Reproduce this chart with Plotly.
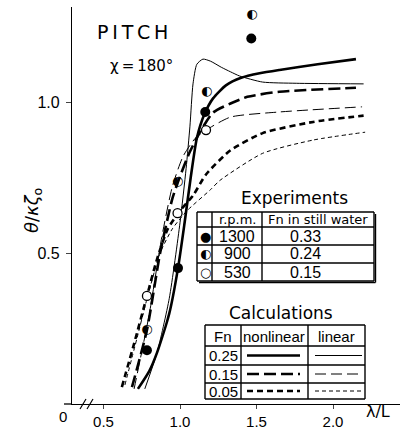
import plotly.graph_objects as go

# ---------------- data ----------------
lam_nl25 = [0.725, 0.80, 0.85, 0.93, 0.987, 1.03, 1.07, 1.11, 1.16, 1.216, 1.3, 1.4, 1.52, 1.65, 1.9, 2.15]
th_nl25 = [0.05, 0.11, 0.17, 0.30, 0.45, 0.60, 0.75, 0.88, 0.96, 1.012, 1.055, 1.08, 1.095, 1.106, 1.125, 1.142]

lam_li25 = [0.77, 0.85, 0.93, 1.0, 1.04, 1.065, 1.085, 1.11, 1.15, 1.2, 1.27, 1.33, 1.39, 1.54, 1.76, 2.2]
th_li25 = [0.05, 0.17, 0.35, 0.60, 0.78, 0.92, 1.06, 1.125, 1.142, 1.135, 1.115, 1.10, 1.086, 1.066, 1.062, 1.06]

lam_nl15 = [0.686, 0.784, 0.87, 0.95, 0.99, 1.06, 1.13, 1.216, 1.33, 1.44, 1.65, 2.15]
th_nl15 = [0.056, 0.245, 0.50, 0.68, 0.74, 0.83, 0.90, 0.965, 0.995, 1.017, 1.034, 1.047]

lam_li15 = [0.70, 0.80, 0.88, 0.95, 1.02, 1.10, 1.17, 1.33, 1.65, 2.19]
th_li15 = [0.05, 0.30, 0.55, 0.72, 0.82, 0.88, 0.907, 0.95, 0.967, 0.984]

lam_nl05 = [0.62, 0.70, 0.78, 0.85, 0.92, 1.0, 1.085, 1.17, 1.33, 1.54, 1.87, 2.2]
th_nl05 = [0.056, 0.20, 0.35, 0.48, 0.58, 0.64, 0.69, 0.76, 0.84, 0.897, 0.934, 0.955]

lam_li05 = [0.64, 0.72, 0.78, 0.87, 0.95, 1.046, 1.2, 1.26, 1.54, 1.87, 2.21]
th_li05 = [0.063, 0.22, 0.34, 0.50, 0.58, 0.64, 0.71, 0.74, 0.83, 0.874, 0.90]

lam_1300 = [0.784, 0.987, 1.165, 1.466]
th_1300 = [0.178, 0.45, 0.967, 1.21]
lam_900 = [0.784, 0.984, 1.175, 1.47]
th_900 = [0.245, 0.735, 1.033, 1.29]
lam_530 = [0.784, 0.984, 1.17]
th_530 = [0.358, 0.632, 0.907]

x_ticks = [0.5, 1.0, 1.5, 2.0]
x_ticktext = ["0.5", "1.0", "1.5", "2.0"]
y_ticks = [0.5, 1.0]
y_ticktext = ["0.5", "1.0"]

exp_rpm = ["1300", "900", "530"]
exp_fn = ["0.33", "0.24", "0.15"]
exp_sym = ["●", "◐", "○"]
calc_fn = ["0.25", "0.15", "0.05"]

# ---------------- layout geometry (pixels) ----------------
W, H = 403, 429
L, R, T, B = 72, 3, 7, 25
PW, PH = W - L - R, H - T - B

def px(x):
    return (x - L) / PW

def py(y):
    return (H - B - y) / PH

FONT = "Liberation Sans, Arial, sans-serif"
WIDE = "DejaVu Sans, sans-serif"

fig = go.Figure()

def line(lx, ly, width, dash):
    fig.add_trace(go.Scatter(x=lx, y=ly, mode="lines",
                             line=dict(color="black", width=width, dash=dash,
                                       shape="spline", smoothing=0.6),
                             showlegend=False, hoverinfo="skip"))

styles = {
    "nl25": (2.6, "solid"), "li25": (1.0, "solid"),
    "nl15": (2.6, "12px,5px"), "li15": (1.0, "11px,5px"),
    "nl05": (2.6, "6px,4px"), "li05": (1.0, "4px,3px"),
}
line(lam_li25, th_li25, *styles["li25"])
line(lam_nl25, th_nl25, *styles["nl25"])
line(lam_nl15, th_nl15, *styles["nl15"])
line(lam_li15, th_li15, *styles["li15"])
line(lam_nl05, th_nl05, *styles["nl05"])
line(lam_li05, th_li05, *styles["li05"])

# experiment points
fig.add_trace(go.Scatter(x=lam_1300, y=th_1300, mode="markers",
                         marker=dict(symbol="circle", size=10, color="black"),
                         showlegend=False, hoverinfo="skip"))
fig.add_trace(go.Scatter(x=lam_530, y=th_530, mode="markers",
                         marker=dict(symbol="circle", size=9, color="white",
                                     line=dict(color="black", width=1.3)),
                         showlegend=False, hoverinfo="skip"))
fig.add_trace(go.Scatter(x=lam_900, y=th_900, mode="text", text=["◐"] * len(lam_900),
                         textposition="middle center",
                         textfont=dict(family=WIDE, size=13, color="black"),
                         showlegend=False, hoverinfo="skip"))

shapes = []
ann = []

def seg(x0, y0, x1, y1, w=1.3, dash="solid"):
    shapes.append(dict(type="line", xref="paper", yref="paper",
                       x0=px(x0), y0=py(y0), x1=px(x1), y1=py(y1),
                       line=dict(color="black", width=w, dash=dash)))

def txt(x, y, s, size=14, xanchor="center", family=FONT, **kw):
    ann.append(dict(x=px(x), y=py(y), xref="paper", yref="paper", text=s,
                    showarrow=False, xanchor=xanchor, yanchor="middle",
                    font=dict(family=family, size=size, color="black"), **kw))

# axis extension and break marks
seg(64, 404, 72, 404, 1.3)
seg(80, 409, 86, 399, 1.2)
seg(87, 409, 93, 399, 1.2)

# titles
TS = "\u2009"
txt(95, 32, TS.join("PITCH"), size=19, xanchor="left", family=WIDE)
txt(108, 66, "χ" + TS + "=" + TS + "180°", size=15, xanchor="left", family=WIDE)
txt(63, 417, "0", size=15)
txt(378, 411, "λ/L", size=16, family=WIDE)
ann.append(dict(x=px(19), y=py(210), xref="paper", yref="paper",
                text="<i>θ</i>/<i>κζ</i><sub>o</sub>", textangle=-90, showarrow=False,
                font=dict(family=WIDE, size=18, color="black")))

# Experiments table
txt(294, 198, "Experiments", size=17, family=WIDE)
ex_cols = [197, 212, 262, 374]
ex_rows = [212, 227, 245, 263, 281]
for xc in ex_cols:
    seg(xc, ex_rows[0], xc, ex_rows[-1], 1.4)
for yr in ex_rows:
    seg(ex_cols[0], yr, ex_cols[-1], yr, 1.4)
seg(ex_cols[-1] + 1.5, ex_rows[0] + 2, ex_cols[-1] + 1.5, ex_rows[-1] + 1.5, 1.4)
seg(ex_cols[0] + 2, ex_rows[-1] + 1.5, ex_cols[-1] + 1.5, ex_rows[-1] + 1.5, 1.4)
txt(237, 220, "r.p.m.", size=13, family=WIDE)
txt(318, 220, "Fn in still water", size=13, family=WIDE)
for i in range(3):
    yc = (ex_rows[i + 1] + ex_rows[i + 2]) / 2
    txt(237, yc, exp_rpm[i], size=16)
    txt(305, yc, exp_fn[i], size=16)
    txt(205, yc, exp_sym[i], size=13, family=WIDE)

# Calculations table
txt(281, 313, "Calculations", size=17, family=WIDE)
ca_cols = [205, 241, 308, 365]
ca_rows = [325, 346, 365, 383, 399]
for xc in ca_cols:
    seg(xc, ca_rows[0], xc, ca_rows[-1], 1.4)
for yr in ca_rows:
    seg(ca_cols[0], yr, ca_cols[-1], yr, 1.4)
txt(223, 336, "Fn", size=15)
txt(274, 336, "nonlinear", size=15)
txt(336, 336, "linear", size=15)
keys = [("nl25", "li25"), ("nl15", "li15"), ("nl05", "li05")]
for i in range(3):
    yc = (ca_rows[i + 1] + ca_rows[i + 2]) / 2
    txt(223, yc, calc_fn[i], size=15)
    w1, d1 = styles[keys[i][0]]
    w2, d2 = styles[keys[i][1]]
    seg(247, yc, 300, yc, w1, d1)
    seg(315, yc, 362, yc, w2, d2)

fig.update_layout(
    width=W, height=H, margin=dict(l=L, r=R, t=T, b=B),
    paper_bgcolor="white", plot_bgcolor="white",
    shapes=shapes, annotations=ann, showlegend=False,
    font=dict(family=FONT, color="black"),
    xaxis=dict(range=[1 + (L - 180) / 153, 1 + (L + PW - 180) / 153],
               tickvals=x_ticks, ticktext=x_ticktext, ticks="outside", ticklen=4,
               tickwidth=1.3, showline=True, linecolor="black", linewidth=1.3,
               showgrid=False, zeroline=False, automargin=False,
               tickfont=dict(size=15, family=FONT)),
    yaxis=dict(range=[0, PH / 302], tickvals=y_ticks, ticktext=y_ticktext,
               ticks="outside", ticklen=5, tickwidth=1.3, showline=True,
               linecolor="black", linewidth=1.3, showgrid=False, zeroline=False,
               ticklabelstandoff=3, automargin=False,
               tickfont=dict(size=16, family=FONT)),
)

fig.write_html("out.html")
